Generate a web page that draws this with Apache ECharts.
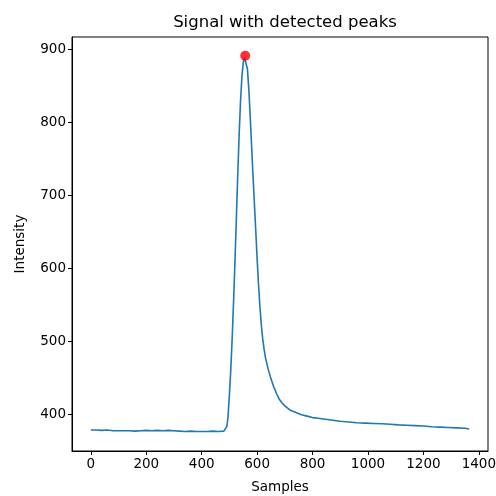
<!DOCTYPE html>
<html>
<head>
<meta charset="utf-8">
<script src="https://cdn.jsdelivr.net/npm/echarts@6/dist/echarts.min.js"></script>
<style>html,body{margin:0;padding:0;background:#fff}#c{width:496px;height:496px}</style>
</head>
<body>
<div id="c"></div>
<script>
const sampleX = [0,20,40,60,80,100,120,140,160,180,200,220,240,260,280,300,320,340,360,380,400,420,440,460,480,487,
  491,495,500,505,510,515,520,525,530,535,540,545,550,554,557,
  560,565,570,575,580,585,590,595,600,605,610,615,620,625,630,640,650,660,670,680,690,700,720,740,760,780,800,820,840,860,880,900,930,960,990,1020,1050,1080,1110,1140,1170,1200,1230,1260,1290,1320,1350,1365];
const intensity = [379,379,378.5,379,378,378,378,378,377.5,378,378.5,378,378.5,378,378.5,378,377.5,377,377.5,377,377,377,377.5,377,377.5,378,
  384,398,428,462,505,555,610,668,728,782,828,862,882,889,891,
  888,873,845,808,768,728,690,652,613,578,548,523,504,490,478,462,449,438,429,421,416,412,406,403,400,398,396,395,394,393,392,391,390,389,388.5,388,387.5,387,386,385.5,385,384.5,383.5,383,382.5,382,381.5,380.5];
const peakX = [557];
const peakY = [891];
const xTicks = [0,200,400,600,800,1000,1200,1400];
const yTicks = [400,500,600,700,800,900];

const font = 'DejaVu Sans';
const chart = echarts.init(document.getElementById('c'), null, {renderer:'canvas'});
chart.setOption({
  animation:false,
  backgroundColor:'#fff',
  title:{text:'Signal with detected peaks', left:280, top:9, textAlign:'center',
    textStyle:{fontFamily:font, fontSize:16.5, fontWeight:'normal', color:'#000'}},
  grid:{left:72, right:8, top:37, bottom:45, show:true, borderColor:'#000', borderWidth:1,
    backgroundColor:'transparent', containLabel:false, outerBoundsMode:'none'},
  xAxis:{type:'value', min:-68, max:1433, name:'Samples', nameLocation:'middle', nameGap:29,
    nameTextStyle:{fontFamily:font, fontSize:13.5, color:'#000'},
    axisLine:{show:true, onZero:false, lineStyle:{color:'#000', width:1}},
    axisTick:{show:true, length:4, customValues:xTicks, lineStyle:{color:'#000'}},
    axisLabel:{customValues:xTicks, formatter:v=>String(v), fontFamily:font, fontSize:13.5, color:'#000', margin:6},
    splitLine:{show:false}},
  yAxis:{type:'value', min:350.3, max:916.7, name:'Intensity', nameLocation:'middle', nameGap:45, nameRotate:90,
    nameTextStyle:{fontFamily:font, fontSize:13.5, color:'#000'},
    axisLine:{show:true, onZero:false, lineStyle:{color:'#000', width:1}},
    axisTick:{show:true, length:4, customValues:yTicks, lineStyle:{color:'#000'}},
    axisLabel:{customValues:yTicks, formatter:v=>String(v), fontFamily:font, fontSize:13.5, color:'#000', margin:6},
    splitLine:{show:false}},
  series:[
    {type:'line', data:sampleX.map((x,i)=>[x,intensity[i]]), showSymbol:false, symbol:'none',
      lineStyle:{color:'#1f77b4', width:1.6}, itemStyle:{color:'#1f77b4'}},
    {type:'scatter', data:peakX.map((x,i)=>[x,peakY[i]]), symbol:'circle', symbolSize:10,
      itemStyle:{color:'#ff0000'}, z:5}
  ]
});
</script>
</body>
</html>
